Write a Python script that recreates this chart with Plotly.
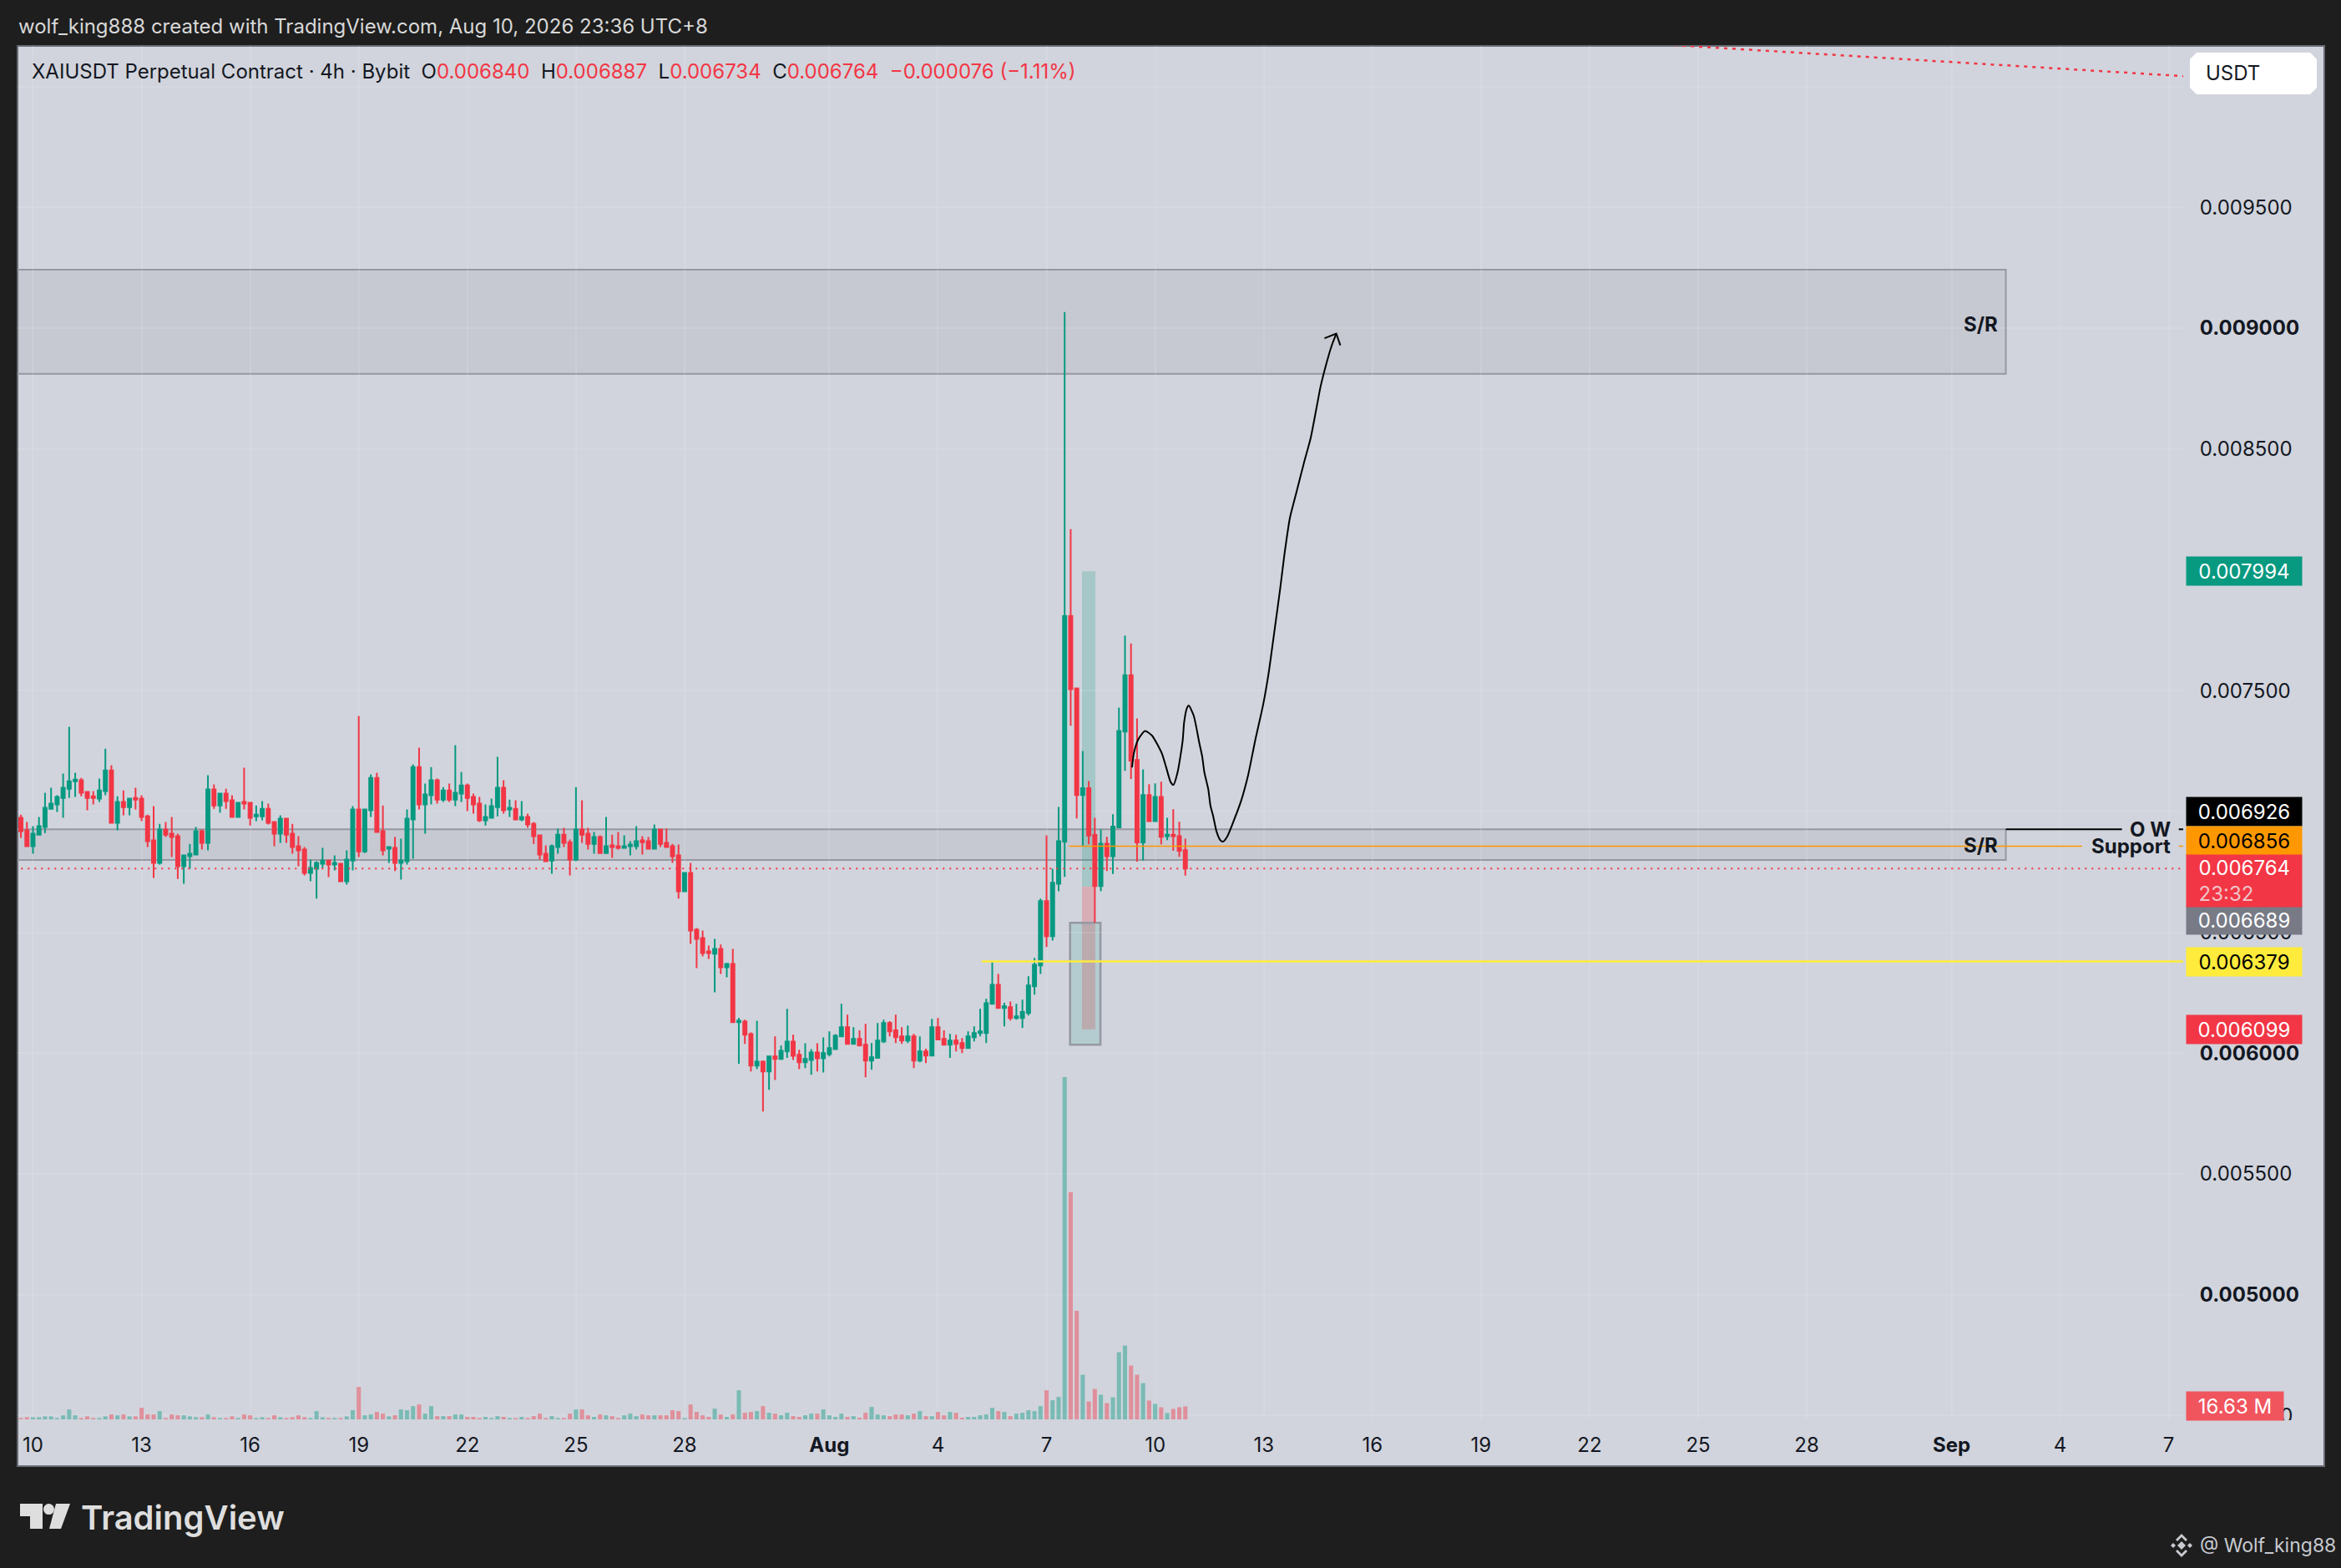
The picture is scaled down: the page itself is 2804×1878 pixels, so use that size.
import pandas as pd
import plotly.graph_objects as go

# 4h candles, prices in units of 1e-6 USDT
opens = [
    6974, 6922, 6856, 6904, 6936, 7011, 7029, 7056, 7094, 7125, 7129, 7081, 7063, 7053, 7084, 7170, 6953, 7039, 7018, 7056,
    7053, 6980, 6880, 6787, 6925, 6908, 6898, 6773, 6815, 6822, 6918, 6870, 7091, 7025, 7074, 7046, 6977, 7039, 7036, 6980,
    6980, 7011, 6956, 6908, 6970, 6908, 6856, 6842, 6746, 6763, 6784, 6797, 6780, 6784, 6711, 6797, 7008, 6835, 7005, 7139,
    6918, 6846, 6849, 6787, 6794, 6967, 7184, 7029, 7067, 7129, 7049, 7087, 7049, 7074, 7108, 7060, 7032, 6963, 6974, 7018,
    7098, 7008, 7011, 6967, 6977, 6949, 6901, 6825, 6797, 6853, 6904, 6873, 6801, 6925, 6908, 6866, 6894, 6828, 6860, 6856,
    6849, 6856, 6856, 6880, 6877, 6846, 6925, 6870, 6856, 6818, 6670, 6746, 6511, 6476, 6421, 6411, 6431, 6355, 6369, 6128,
    6131, 6079, 5948, 5965, 5924, 5986, 5976, 6007, 6048, 5993, 5962, 5972, 6003, 5979, 5996, 6017, 6069, 6107, 6038, 6059,
    6035, 5969, 5980, 6049, 6125, 6094, 6069, 6052, 6069, 5969, 6007, 5990, 6107, 6059, 6035, 6052, 6042, 6021, 6066, 6083,
    6083, 6204, 6283, 6187, 6190, 6145, 6145, 6166, 6277, 6363, 6629, 6484, 6701, 6875, 7809, 7509, 7068, 7096, 6903, 6691,
    6867, 6815, 6934, 7330, 7564, 7213, 6872, 7068, 6960, 7060, 6898, 6904, 6898, 6840,
]
highs = [
    6987, 6956, 6939, 6977, 7077, 7098, 7067, 7157, 7350, 7160, 7139, 7081, 7084, 7136, 7260, 7191, 7063, 7087, 7056, 7098,
    7067, 6987, 7022, 6949, 6956, 6977, 6908, 6822, 6866, 6936, 6925, 7150, 7112, 7074, 7094, 7067, 7039, 7181, 7039, 7025,
    7043, 7032, 6960, 6984, 6970, 6949, 6898, 6853, 6801, 6794, 6849, 6801, 6818, 6784, 6839, 7022, 7395, 7011, 7153, 7160,
    7025, 6853, 6894, 6887, 7008, 7195, 7264, 7115, 7184, 7136, 7101, 7115, 7274, 7163, 7115, 7074, 7060, 7029, 7053, 7226,
    7129, 7049, 7046, 7043, 6991, 6956, 6904, 6860, 6863, 6929, 6932, 6884, 7101, 7046, 6932, 6915, 6901, 6977, 6904, 6915,
    6901, 6877, 6939, 6898, 6894, 6946, 6925, 6929, 6866, 6863, 6749, 6787, 6518, 6507, 6445, 6473, 6449, 6373, 6431, 6145,
    6138, 6086, 6134, 5969, 5989, 6069, 6031, 6183, 6076, 6014, 6041, 6017, 6041, 6065, 6090, 6079, 6204, 6159, 6107, 6094,
    6121, 6042, 6125, 6138, 6132, 6159, 6107, 6114, 6080, 6069, 6018, 6142, 6145, 6094, 6080, 6076, 6062, 6090, 6111, 6183,
    6225, 6379, 6328, 6208, 6214, 6204, 6221, 6318, 6394, 6639, 6901, 6763, 7019, 9067, 8168, 7509, 7250, 7126, 6974, 6926,
    6895, 6988, 7430, 7728, 7695, 7385, 7174, 7113, 7116, 7123, 6974, 7009, 6957, 6887,
]
lows = [
    6891, 6856, 6825, 6904, 6911, 7008, 6998, 6974, 7056, 7060, 7063, 7005, 7029, 7039, 7067, 6953, 6922, 6984, 6984, 7008,
    6960, 6853, 6725, 6780, 6894, 6811, 6721, 6701, 6763, 6822, 6842, 6839, 7011, 6994, 7011, 6977, 6974, 7008, 6942, 6960,
    6963, 6946, 6856, 6870, 6870, 6825, 6773, 6735, 6711, 6639, 6766, 6728, 6756, 6711, 6697, 6756, 6811, 6828, 6977, 6915,
    6818, 6787, 6753, 6718, 6780, 6804, 7008, 6908, 7029, 7032, 7039, 7039, 7022, 7039, 7001, 6991, 6956, 6942, 6974, 6980,
    6991, 6977, 6963, 6960, 6932, 6866, 6801, 6791, 6742, 6825, 6853, 6735, 6794, 6870, 6842, 6825, 6825, 6828, 6808, 6842,
    6846, 6818, 6842, 6822, 6846, 6846, 6853, 6849, 6787, 6639, 6666, 6452, 6352, 6400, 6390, 6252, 6328, 6314, 6128, 5955,
    6038, 5924, 5934, 5758, 5848, 5889, 5972, 5980, 5972, 5934, 5938, 5910, 5924, 5920, 5986, 6014, 6069, 6038, 6038, 6028,
    5900, 5931, 5980, 6042, 6069, 6042, 6038, 6042, 5938, 5962, 5959, 5986, 6056, 6031, 5980, 6007, 6000, 6018, 6049, 6069,
    6042, 6204, 6183, 6111, 6135, 6138, 6104, 6156, 6242, 6328, 6439, 6466, 6670, 6729, 7355, 6971, 6857, 6864, 6539, 6670,
    6753, 6741, 6934, 7168, 7134, 6792, 6797, 6957, 6960, 6864, 6881, 6837, 6812, 6734,
]
closes = [
    6918, 6856, 6908, 6939, 7015, 7032, 7060, 7098, 7125, 7132, 7077, 7056, 7056, 7087, 7170, 6953, 7039, 7018, 7053, 7049,
    6977, 6877, 6787, 6925, 6904, 6894, 6773, 6818, 6825, 6918, 6870, 7091, 7025, 7074, 7043, 6977, 7036, 7032, 6974, 6987,
    7011, 6953, 6908, 6970, 6904, 6853, 6839, 6746, 6766, 6787, 6797, 6780, 6787, 6711, 6801, 7008, 6835, 7008, 7139, 6915,
    6839, 6853, 6787, 6797, 6970, 7184, 7029, 7070, 7129, 7049, 7087, 7049, 7077, 7108, 7056, 7029, 6963, 6977, 7022, 7098,
    7005, 7015, 6967, 6977, 6946, 6898, 6822, 6794, 6856, 6904, 6870, 6801, 6925, 6904, 6866, 6894, 6828, 6856, 6853, 6849,
    6856, 6863, 6877, 6873, 6846, 6925, 6866, 6853, 6815, 6670, 6746, 6507, 6473, 6414, 6414, 6431, 6355, 6369, 6128, 6134,
    6076, 5948, 5965, 5924, 5986, 5976, 6010, 6048, 5989, 5962, 5976, 6003, 5979, 6000, 6021, 6072, 6107, 6038, 6059, 6031,
    5969, 5983, 6052, 6125, 6090, 6066, 6052, 6069, 5969, 6007, 5990, 6107, 6056, 6035, 6052, 6038, 6021, 6069, 6083, 6090,
    6207, 6283, 6187, 6194, 6145, 6152, 6170, 6280, 6366, 6629, 6484, 6705, 6877, 7809, 7506, 7068, 7096, 6900, 6691, 6867,
    6815, 6937, 7333, 7564, 7210, 6872, 7068, 6960, 7060, 6895, 6904, 6898, 6837, 6764,
]

# volume, millions of XAI
volumes = [
    1.8, 2.8, 2.8, 2.8, 3.9, 3.9, 1.8, 5.3, 12.7, 5.3,
    1.8, 3.9, 1.8, 1.8, 3.9, 6.4, 5.3, 6.4, 3.9, 3.9,
    14.8, 6.4, 6.4, 10.6, 1.8, 6.4, 5.3, 5.3, 3.9, 2.8,
    2.8, 6.4, 2.8, 1.8, 1.8, 3.9, 1.8, 6.4, 5.3, 1.8,
    2.8, 1.8, 5.3, 2.8, 1.8, 2.8, 5.3, 2.8, 1.8, 10.6,
    2.8, 1.8, 1.8, 1.8, 3.9, 11.7, 41.3, 5.3, 6.4, 9.5,
    7.4, 3.9, 5.3, 12.7, 11.7, 16.9, 19.0, 7.4, 16.9, 4.2,
    4.2, 4.2, 6.4, 6.4, 3.2, 3.2, 1.8, 3.2, 1.8, 4.2,
    3.2, 1.8, 1.8, 3.2, 1.8, 4.2, 7.4, 1.8, 4.2, 1.8,
    1.8, 7.4, 12.7, 12.7, 5.3, 3.2, 6.4, 5.3, 4.2, 1.8,
    5.3, 7.4, 4.2, 6.4, 5.3, 5.3, 5.3, 5.3, 11.7, 10.6,
    1.8, 19.0, 9.5, 5.3, 3.2, 13.8, 6.4, 3.2, 6.4, 37.1,
    8.5, 9.5, 10.6, 16.9, 8.5, 7.4, 5.3, 8.5, 4.2, 3.2,
    5.3, 7.4, 7.4, 12.7, 5.3, 3.2, 7.4, 3.2, 4.2, 2.1,
    8.5, 15.9, 6.4, 5.3, 4.2, 6.4, 6.4, 5.3, 7.4, 10.6,
    4.2, 4.2, 9.5, 5.3, 9.5, 8.5, 2.1, 3.2, 3.2, 5.3,
    6.4, 14.8, 10.6, 9.5, 4.2, 7.4, 8.5, 11.7, 10.6, 16.9,
    37.1, 24.4, 28.6, 435.0, 289.0, 138.0, 56.8, 22.9, 38.8, 31.4,
    20.8, 28.2, 85.4, 93.9, 68.5, 56.8, 46.2, 24.0, 19.8, 15.5,
    8.1, 13.4, 15.5, 16.63,
]

# hand drawn projection, hours after Aug 8 00:00 and price
curve_hours = [
    32.7, 33.9, 36.7, 41.3, 45.9, 52.4, 55.2, 58.3, 60.1, 62.9, 66.2, 67.2, 69.0, 70.3, 73.6, 77.3, 79.2, 80.6, 83.2, 84.7,
    86.5, 88.7, 91.1, 93.0, 95.8, 100.4, 105.0, 109.6, 114.2, 119.7, 123.4, 126.2, 130.8, 133.6, 137.3, 141.9, 146.5,
    151.1, 154.8, 157.6, 161.3, 164.9, 168.1,
]
curve_prices = [
    7182, 7241, 7297, 7333, 7314, 7241, 7185, 7121, 7110, 7163, 7290, 7368, 7427, 7438, 7396, 7283, 7227, 7163, 7093, 7023,
    6980, 6917, 6882, 6875, 6896, 6966, 7044, 7149, 7290, 7445, 7579, 7706, 7917, 8058, 8213, 8326, 8439,
    8545, 8664, 8756, 8848, 8925, 8977,
]
arrow_hours = [160.3, 168.1, 170.8]
arrow_prices = [8958, 8977, 8929]

x_tick_dates = ["2026-07-10", "2026-07-13", "2026-07-16", "2026-07-19", "2026-07-22", "2026-07-25", "2026-07-28",
                "2026-08-01", "2026-08-04", "2026-08-07", "2026-08-10", "2026-08-13", "2026-08-16", "2026-08-19",
                "2026-08-22", "2026-08-25", "2026-08-28", "2026-09-01", "2026-09-04", "2026-09-07"]
x_tick_text = ["10", "13", "16", "19", "22", "25", "28", "<b>Aug</b>", "4", "7", "10", "13", "16", "19",
               "22", "25", "28", "<b>Sep</b>", "4", "7"]
y_tick_vals = [0.0100, 0.0095, 0.0090, 0.0085, 0.0075, 0.0070, 0.0065, 0.0060, 0.0055, 0.0050, 0.0045]
y_tick_text = ["0.010000", "0.009500", "<b>0.009000</b>", "0.008500", "0.007500", "0.007000", "0.006500",
               "<b>0.006000</b>", "0.005500", "<b>0.005000</b>", "0.004500"]

W, H = 2804, 1878
PAPER_H = 1869  # paper coords come out about 9px short of the page height
GREEN = "#089981"
RED = "#F23645"
PANEL = "#D1D4DC"
DARK = "#1E1E1E"
GREY = "#9598A1"
GRID = "rgba(240,243,250,0.14)"
FONT = "Inter"

times = pd.date_range("2026-07-09 16:00", periods=len(opens), freq="4h")
scale = lambda vals: [v / 1e6 for v in vals]
after_aug8 = lambda hours: [pd.Timestamp("2026-08-08") + pd.Timedelta(hours=h) for h in hours]
vol_colors = ["rgba(8,153,129,0.43)" if c >= o else "rgba(242,54,69,0.43)" for o, c in zip(opens, closes)]

fig = go.Figure()

fig.add_trace(go.Bar(x=times, y=volumes, marker=dict(color=vol_colors, line_width=0), yaxis="y2", hoverinfo="skip"))
fig.add_trace(go.Candlestick(
    x=times, open=scale(opens), high=scale(highs), low=scale(lows), close=scale(closes),
    increasing=dict(line=dict(color=GREEN, width=2), fillcolor=GREEN),
    decreasing=dict(line=dict(color=RED, width=2), fillcolor=RED),
    whiskerwidth=0, hoverinfo="skip",
))
fig.add_trace(go.Scatter(x=after_aug8(curve_hours), y=scale(curve_prices), mode="lines",
                         line=dict(color="black", width=2, shape="spline", smoothing=0.6), hoverinfo="skip"))
fig.add_trace(go.Scatter(x=after_aug8(arrow_hours), y=scale(arrow_prices), mode="lines",
                         line=dict(color="black", width=2), hoverinfo="skip"))


def px(x):
    return x / W


def py(y):
    return 1 - y / PAPER_H


def poly(points):
    return "M " + " L ".join(f"{px(x)} {py(y)}" for x, y in points) + " Z"


# outer panel behind chart and both scales
fig.add_shape(type="rect", xref="paper", yref="paper", x0=px(21), x1=px(2784), y0=py(55), y1=py(1757),
              fillcolor=PANEL, line=dict(color="#686B73", width=2), layer="below")

# S/R zones
for low, high in [(0.008811, 0.009242), (0.006799, 0.006926)]:
    fig.add_shape(type="rect", x0="2026-07-01", x1="2026-09-02 12:00", y0=low, y1=high,
                  fillcolor="rgba(120,123,134,0.12)", line=dict(color=GREY, width=2), layer="below")

# long position tool and the box around the entry
fig.add_shape(type="rect", x0="2026-08-07 23:30", x1="2026-08-08 08:20", y0=0.006689, y1=0.007994,
              fillcolor="rgba(8,153,129,0.22)", line_width=0, layer="below")
fig.add_shape(type="rect", x0="2026-08-07 23:30", x1="2026-08-08 08:20", y0=0.006099, y1=0.006689,
              fillcolor="rgba(242,54,69,0.25)", line_width=0, layer="below")
fig.add_shape(type="rect", x0="2026-08-07 15:36", x1="2026-08-08 11:45", y0=0.006035, y1=0.006539,
              fillcolor="rgba(8,153,129,0.14)", line=dict(color=GREY, width=2.5), layer="below")

# horizontal levels
fig.add_shape(type="line", x0="2026-08-05 05:00", x1="2026-09-08", y0=0.006379, y1=0.006379,
              line=dict(color="#FFEB3B", width=2.5))
for x0, x1 in [("2026-08-07 15:00", "2026-09-04 14:30"), ("2026-09-07 06:40", "2026-09-08")]:
    fig.add_shape(type="line", x0=x0, x1=x1, y0=0.006856, y1=0.006856, line=dict(color="#FF9800", width=1.6))
for x0, x1 in [("2026-09-02 12:00", "2026-09-05 17:00"), ("2026-09-07 06:40", "2026-09-08")]:
    fig.add_shape(type="line", x0=x0, x1=x1, y0=0.006926, y1=0.006926, line=dict(color="black", width=2))
fig.add_shape(type="line", x0="2026-07-01", x1="2026-09-08", y0=0.006764, y1=0.006764,
              line=dict(color=RED, width=2, dash="2px,6px"))
fig.add_shape(type="line", x0="2026-08-24 08:00", x1="2026-09-07 09:36", y0=0.010171, y1=0.010043,
              line=dict(color=RED, width=2.5, dash="4px,6px"))

# hides the lower part of the 0.004500 tick label, the pane cuts it there
fig.add_shape(type="rect", xref="paper", yref="paper", x0=px(2620), x1=px(2770), y0=py(1702), y1=py(1714),
              fillcolor=PANEL, line_width=0, layer="above")

# USDT button
r = 8
fig.add_shape(type="path", xref="paper", yref="paper", layer="above", fillcolor="white", line_width=0,
              path=poly([(2623 + r, 63), (2775 - r, 63), (2775, 63 + r), (2775, 113 - r), (2775 - r, 113),
                         (2623 + r, 113), (2623, 113 - r), (2623, 63 + r)]))

# TradingView mark
for pts in [[(24, 1802), (51, 1802), (51, 1832), (36, 1832), (36, 1817), (24, 1817)],
            [(67, 1802), (84, 1802), (73, 1832), (59, 1832)]]:
    fig.add_shape(type="path", xref="paper", yref="paper", fillcolor="#DEDEDE", line_width=0, path=poly(pts))
fig.add_shape(type="circle", xref="paper", yref="paper", x0=px(52), x1=px(65), y0=py(1802), y1=py(1815),
              fillcolor="#DEDEDE", line_width=0)

# Binance mark next to the watermark
for pts in [[(2613, 1847), (2618, 1852), (2613, 1857), (2608, 1852)],
            [(2603, 1849), (2606, 1852), (2603, 1855), (2600, 1852)],
            [(2623, 1849), (2626, 1852), (2623, 1855), (2620, 1852)],
            [(2613, 1838), (2620, 1845), (2618, 1847), (2613, 1842), (2608, 1847), (2606, 1845)],
            [(2613, 1866), (2620, 1859), (2618, 1857), (2613, 1862), (2608, 1857), (2606, 1859)]]:
    fig.add_shape(type="path", xref="paper", yref="paper", fillcolor="#C8CAD0", line_width=0, path=poly(pts))


def price_label(value, text, bg, color, yshift=0):
    fig.add_annotation(xref="paper", yref="y", x=px(2618), y=value, xanchor="left", yanchor="middle",
                       yshift=yshift, text=text, showarrow=False, width=136, height=32, align="center",
                       bgcolor=bg, font=dict(family=FONT, size=24, color=color))


def page_text(x, y, text, **font):
    fig.add_annotation(xref="paper", yref="paper", x=px(x), y=py(y), xanchor="left", yanchor="middle",
                       text=text, showarrow=False, font=dict(family=FONT, **font))


price_label(0.007994, "0.007994", GREEN, "white")
price_label(0.006926, "0.006926", "black", "white", yshift=21)
price_label(0.006856, "0.006856", "#FF9800", "black", yshift=7)
price_label(0.006689, "0.006689", "#787B86", "white", yshift=-40)
price_label(0.006379, "0.006379", "#FFEB3B", "black")
price_label(0.006099, "0.006099", RED, "white")
fig.add_annotation(xref="paper", yref="y", x=px(2618), y=0.006764, xanchor="left", yanchor="top", yshift=17,
                   text="&nbsp;&nbsp;0.006764<br>&nbsp;&nbsp;<span style='color:#F0C4C8'>23:32</span>",
                   showarrow=False, width=136, height=60, align="left", bgcolor=RED,
                   font=dict(family=FONT, size=24, color="white"))
fig.add_annotation(xref="paper", yref="y2", x=px(2618), y=volumes[-1], xanchor="left", yanchor="middle",
                   text="16.63 M", showarrow=False, width=114, height=32, align="center",
                   bgcolor="#F0555E", font=dict(family=FONT, size=24, color="white"))

# labels on the chart
for x, y, text in [("2026-09-02 08:00", 0.009016, "S/R"), ("2026-09-02 08:00", 0.006860, "S/R"),
                   ("2026-09-07 02:24", 0.006926, "O W"), ("2026-09-07 02:24", 0.006856, "Support")]:
    fig.add_annotation(x=x, y=y, text=f"<b>{text}</b>", showarrow=False, xanchor="right", yanchor="middle",
                       font=dict(family=FONT, size=24, color="#131722"))

page_text(2640, 88, "USDT", size=24, color="#131722")

# header, footer
sep = "&nbsp;&nbsp;"
ohlc = sep.join(f"{k}<span style='color:{RED}'>{v}</span>" for k, v in
                [("O", "0.006840"), ("H", "0.006887"), ("L", "0.006734"), ("C", "0.006764")])
page_text(20, 32, "wolf_king888 created with TradingView.com, Aug 10, 2026 23:36 UTC+8", size=24, color="#D8D8D8")
page_text(36, 86, f"XAIUSDT Perpetual Contract · 4h · Bybit{sep}{ohlc}{sep}<span style='color:{RED}'>−0.000076 (−1.11%)</span>",
          size=24, color="#131722")
page_text(95, 1818, "TradingView", size=40, color="#DEDEDE", weight=600)
page_text(2633, 1852, "@ Wolf_king88", size=23, color="#C8CAD0")

fig.update_layout(
    width=W, height=H,
    margin=dict(l=0, r=0, t=0, b=0),
    paper_bgcolor=DARK, plot_bgcolor=PANEL,
    showlegend=False, hovermode=False,
    bargap=0.3, boxgap=0.22, boxgroupgap=0.3,
    font=dict(family=FONT, size=24, color="#131722"),
    xaxis=dict(
        type="date", domain=[px(21), px(2615)], range=["2026-07-09 13:46", "2026-09-07 09:36"],
        rangeslider=dict(visible=False), tickmode="array", tickvals=x_tick_dates, ticktext=x_tick_text,
        tickangle=0, showgrid=True, gridcolor=GRID, gridwidth=2, zeroline=False, showline=False,
        ticks="outside", ticklen=9, tickcolor="rgba(0,0,0,0)", tickfont=dict(family=FONT, size=24, color="#131722"),
    ),
    yaxis=dict(
        domain=[py(1701), py(55)], range=[0.004484, 0.010168], side="right", tickmode="array",
        tickvals=y_tick_vals, ticktext=y_tick_text, showgrid=True, gridcolor=GRID, gridwidth=2, zeroline=False,
        showline=False, ticks="outside", ticklen=14, tickcolor="rgba(0,0,0,0)",
        tickfont=dict(family=FONT, size=24, color="#131722"),
    ),
    yaxis2=dict(overlaying="y", side="right", range=[0, 1745], showticklabels=False, showgrid=False, zeroline=False,
                showline=False),
)

# the default page has an 8px body margin, which would push the chart off the window
fig.write_html("out.html", config=dict(displayModeBar=False),
               post_script="document.body.style.margin='0';document.body.style.overflow='hidden';")
